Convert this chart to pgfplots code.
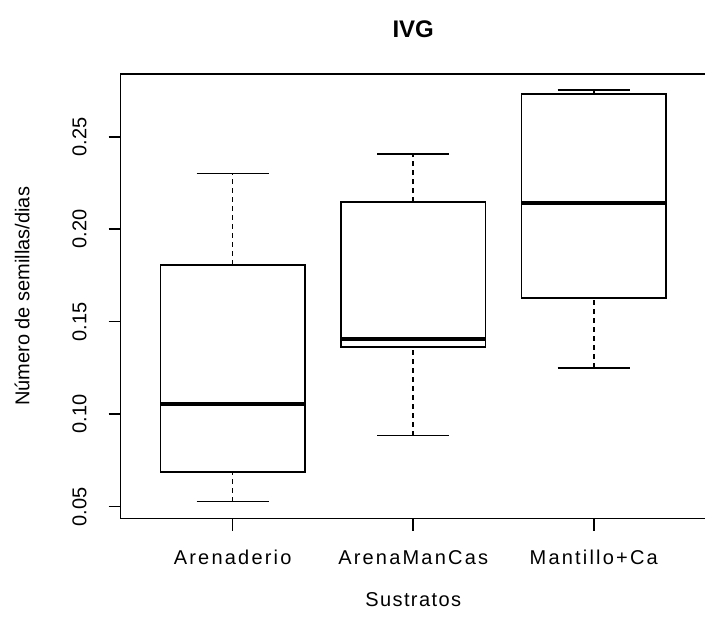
\documentclass[border=0pt]{standalone}
\usepackage{pgfplots}
\pgfplotsset{compat=1.18}
\usepackage{fontspec}
\setmainfont{Liberation Sans}
\newfontfamily\spacedtick[LetterSpace=11]{Liberation Sans}
\newfontfamily\spacedlab[LetterSpace=7]{Liberation Sans}
\begin{document}
\begin{tikzpicture}
\begin{axis}[
  scale only axis,
  width=585pt, height=444.7pt,
  xmin=0.38, xmax=3.62,
  ymin=0.0435, ymax=0.2839,
  axis line style={line width=1.6pt},
  xtick={1,2,3},
  xticklabels={Arenaderio, ArenaManCas, Mantillo+Ca},
  ytick={0.05,0.10,0.15,0.20,0.25},
  yticklabels={0.05,0.10,0.15,0.20,0.25},
  xtick pos=bottom, ytick pos=left,
  tick align=outside,
  major tick length=12pt,
  tick style={line width=1.6pt, black},
  ticklabel style={font=\fontsize{20}{24}\selectfont},
  yticklabel style={rotate=90, anchor=south, inner sep=0pt},
  xticklabel style={anchor=center, inner sep=0pt, font=\spacedtick\fontsize{20}{24}\selectfont},
  xticklabel shift=27pt,
  yticklabel shift=22pt,
  xlabel={Sustratos},
  ylabel={Número de semillas/dias},
  label style={font=\fontsize{20}{24}\selectfont},
  xlabel style={at={(axis description cs:0.5,0)}, anchor=center, yshift=-81.3pt, font=\spacedlab\fontsize{20}{24}\selectfont},
  ylabel style={at={(axis description cs:-0.1687,0.5)}, anchor=center},
  title={\textbf{IVG}},
  title style={font=\fontsize{24}{28}\selectfont, at={(axis description cs:0.5,1)}, anchor=center, yshift=38.5pt},
  whisk/.style={black, line width=1.6pt, dash pattern=on 5pt off 4pt},
  cap/.style={black, line width=1.6pt},
  boxst/.style={black, line width=1.6pt, fill=white},
  med/.style={black, line width=4.4pt},
]
% Arenaderio: lw 0.0527, q1 0.0686, med 0.1055, q3 0.1807, uw 0.2302
\addplot[whisk] coordinates {(1,0.0527) (1,0.0686)};
\addplot[whisk] coordinates {(1,0.1807) (1,0.2302)};
\addplot[cap] coordinates {(0.8,0.0527) (1.2,0.0527)};
\addplot[cap] coordinates {(0.8,0.2302) (1.2,0.2302)};
\addplot[boxst] coordinates {(0.6,0.0686) (1.4,0.0686) (1.4,0.1807) (0.6,0.1807)} -- cycle;
\addplot[med] coordinates {(0.6,0.1055) (1.4,0.1055)};
% ArenaManCas: lw 0.0884, q1 0.1362, med 0.1405, q3 0.2147, uw 0.2405
\addplot[whisk] coordinates {(2,0.0884) (2,0.1362)};
\addplot[whisk] coordinates {(2,0.2147) (2,0.2405)};
\addplot[cap] coordinates {(1.8,0.0884) (2.2,0.0884)};
\addplot[cap] coordinates {(1.8,0.2405) (2.2,0.2405)};
\addplot[boxst] coordinates {(1.6,0.1362) (2.4,0.1362) (2.4,0.2147) (1.6,0.2147)} -- cycle;
\addplot[med] coordinates {(1.6,0.1405) (2.4,0.1405)};
% Mantillo+Ca: lw 0.1251, q1 0.1627, med 0.2140, q3 0.2731, uw 0.2752
\addplot[whisk] coordinates {(3,0.1251) (3,0.1627)};
\addplot[whisk] coordinates {(3,0.2731) (3,0.2752)};
\addplot[cap] coordinates {(2.8,0.1251) (3.2,0.1251)};
\addplot[cap] coordinates {(2.8,0.2752) (3.2,0.2752)};
\addplot[boxst] coordinates {(2.6,0.1627) (3.4,0.1627) (3.4,0.2731) (2.6,0.2731)} -- cycle;
\addplot[med] coordinates {(2.6,0.2140) (3.4,0.2140)};
\end{axis}
\pgfresetboundingbox
\path[use as bounding box] ([xshift=-120.7pt,yshift=-102.3pt]current axis.south west) rectangle ++(705pt,621pt);
\end{tikzpicture}
\end{document}
